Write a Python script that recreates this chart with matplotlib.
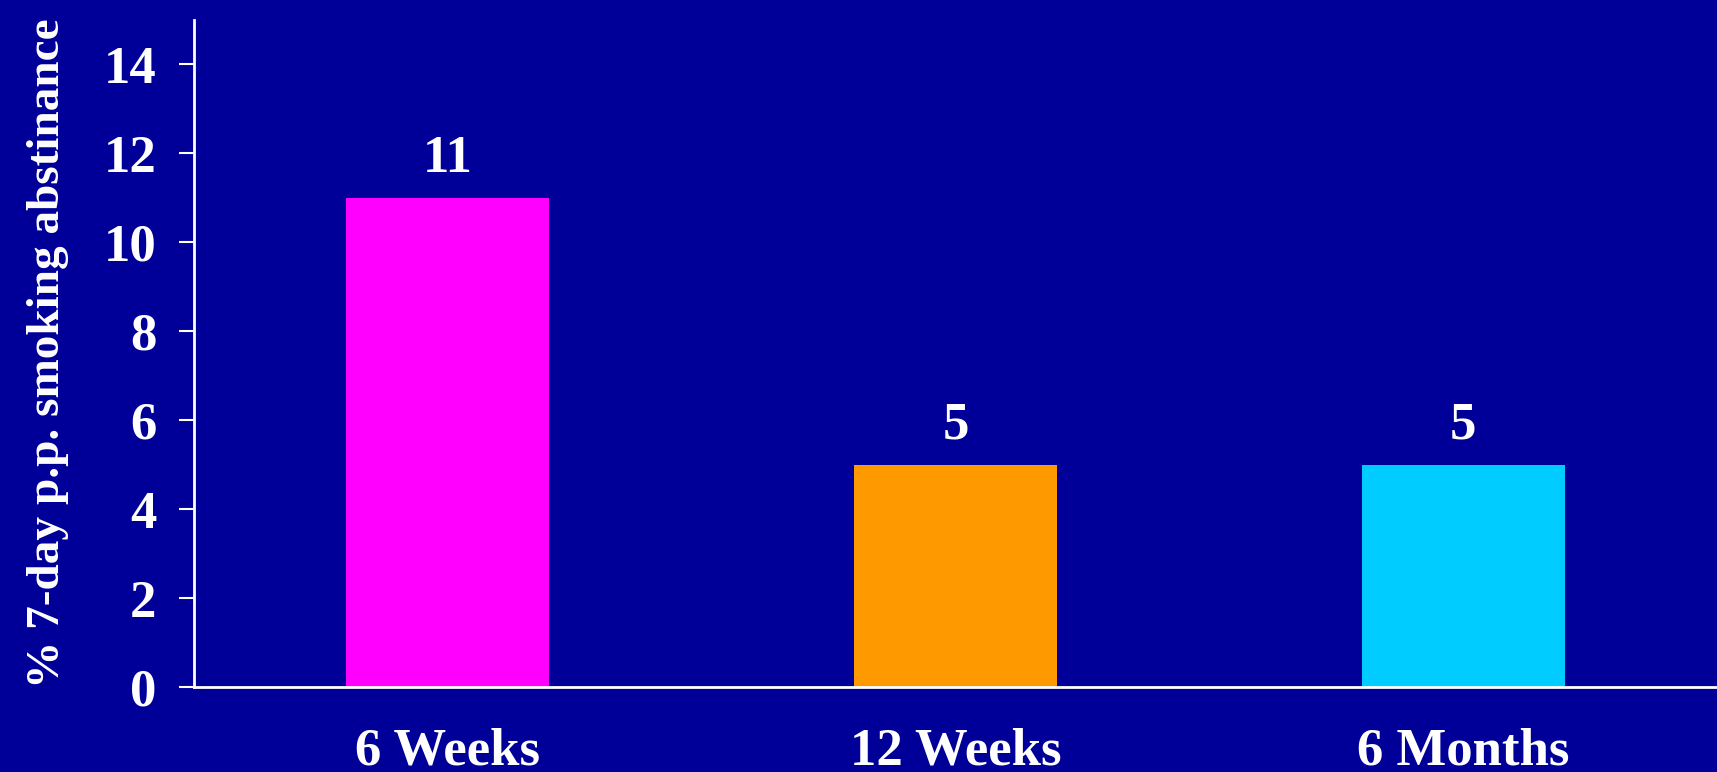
import matplotlib
matplotlib.use("Agg")
from matplotlib import pyplot as plt

# data
categories = ["6 Weeks", "12 Weeks", "6 Months"]
values = [11, 5, 5]
bar_colors = ["#FF00FF", "#FF9900", "#00CCFF"]
yticks = [0, 2, 4, 6, 8, 10, 12, 14]

BG = "#000099"
FONT = "Liberation Serif"

plt.rcParams["font.family"] = FONT
plt.rcParams["font.weight"] = "bold"

fig = plt.figure(figsize=(17.17, 7.72), dpi=100, facecolor=BG)
ax = fig.add_axes([194 / 1717, 1 - 687 / 772, 1 - 194 / 1717, (687 - 20) / 772])
ax.set_facecolor(BG)

xs = range(len(categories))
ax.bar(xs, values, width=0.40, color=bar_colors, zorder=2)

for x, v in zip(xs, values):
    ax.annotate(str(v), (x, v), xytext=(0, 26), textcoords="offset pixels",
                ha="center", va="baseline", color="white", fontsize=38,
                fontweight="bold")

ax.set_xlim(-0.5, 2.5)
ax.set_ylim(0, 15)
ax.set_yticks(yticks)
ax.set_xticks(list(xs))
ax.set_xticklabels(categories)

ax.tick_params(axis="y", colors="white", labelsize=38, length=11, width=1.5, pad=16)
ax.tick_params(axis="x", colors="white", labelsize=38, length=0, pad=29)
for lab in ax.get_xticklabels() + ax.get_yticklabels():
    lab.set_fontweight("bold")

for side in ["top", "right"]:
    ax.spines[side].set_visible(False)
for side in ["left", "bottom"]:
    ax.spines[side].set_color("white")
    ax.spines[side].set_linewidth(2)

ax.set_ylabel("% 7-day p.p. smoking abstinance", color="white", fontsize=34,
              fontweight="bold")
ax.yaxis.set_label_coords(-0.082, 0.5)

fig.savefig("out.png", dpi=100, facecolor=BG)
